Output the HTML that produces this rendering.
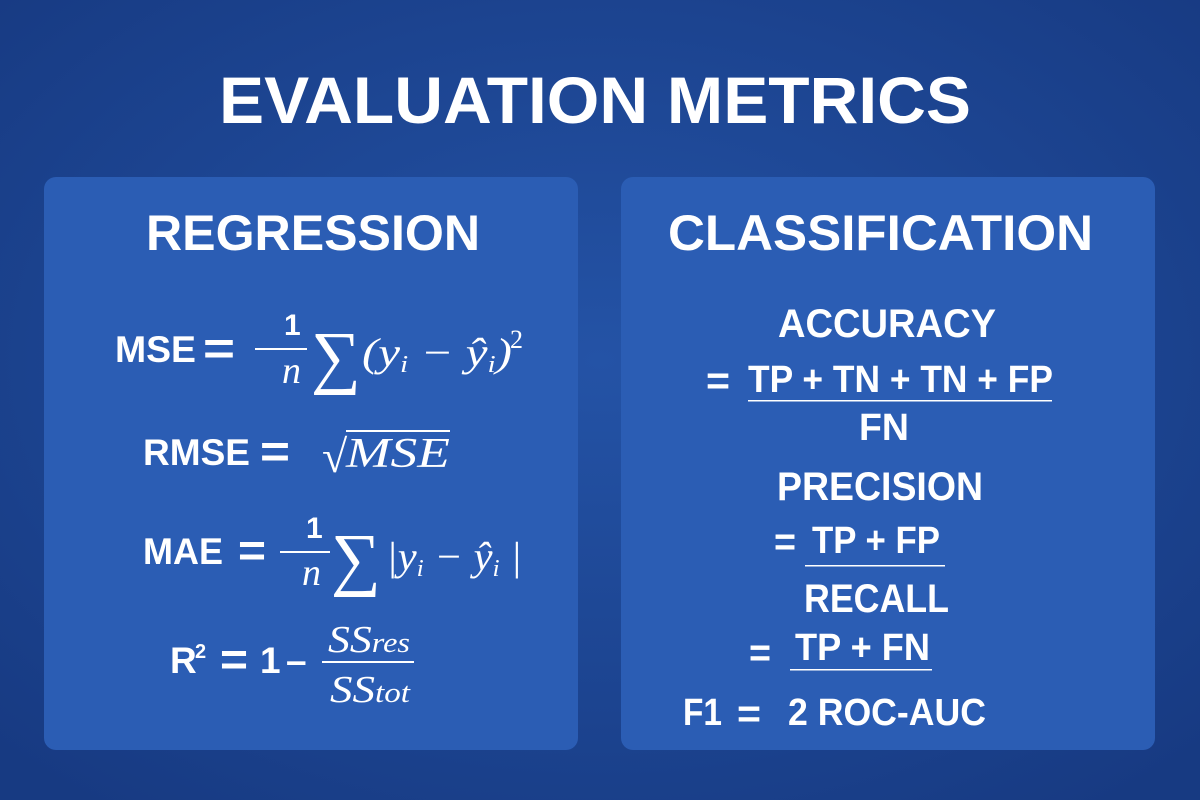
<!DOCTYPE html>
<html><head><meta charset="utf-8"><style>
html,body{margin:0;padding:0;width:1200px;height:800px;overflow:hidden;background:#1a3f8a}
svg{display:block}
.b{font-family:"Liberation Sans",sans-serif;font-weight:bold;fill:#fff}
.m{font-family:"Liberation Serif",serif;font-style:italic;fill:#fff}
.r{font-family:"Liberation Serif",serif;fill:#fff}
</style></head><body>
<svg width="1200" height="800" viewBox="0 0 1200 800">
<defs>
<radialGradient id="bg" cx="50%" cy="45%" r="70%"><stop offset="0" stop-color="#2453a6"/><stop offset="1" stop-color="#173a82"/></radialGradient>
</defs>
<rect width="1200" height="800" fill="url(#bg)"/>
<text class="b" x="219" y="123" font-size="66" textLength="752" lengthAdjust="spacingAndGlyphs">EVALUATION METRICS</text>

<g>
<rect x="44" y="177" width="534" height="573" rx="12" fill="#2b5db4"/>
<text class="b" x="146" y="250" font-size="50" textLength="334" lengthAdjust="spacingAndGlyphs">REGRESSION</text>

<g>
<text class="b" x="115" y="362" font-size="37" textLength="81" lengthAdjust="spacingAndGlyphs">MSE</text>
<text class="b" x="203" y="364" font-size="46" textLength="32" lengthAdjust="spacingAndGlyphs">=</text>
<text class="b" x="284" y="335" font-size="30">1</text>
<rect x="255" y="348" width="52" height="2" fill="#fff"/>
<text class="m" x="282" y="383" font-size="38">n</text>
<text class="r" x="311" y="380" font-size="70">∑</text>
<text class="m" x="362" y="366" font-size="40" textLength="150" lengthAdjust="spacingAndGlyphs">(y<tspan font-size="24" dy="6">i</tspan><tspan dy="-6"> − ŷ</tspan><tspan font-size="24" dy="6">i</tspan><tspan dy="-6">)</tspan></text>
<text class="r" x="510" y="348" font-size="26">2</text>
</g>

<g>
<text class="b" x="143" y="465" font-size="37" textLength="107" lengthAdjust="spacingAndGlyphs">RMSE</text>
<text class="b" x="260" y="467" font-size="46" textLength="30" lengthAdjust="spacingAndGlyphs">=</text>
<text class="r" x="322" y="472" font-size="46">√</text>
<rect x="346" y="430" width="104" height="2" fill="#fff"/>
<text class="m" x="346" y="467" font-size="42" textLength="104" lengthAdjust="spacingAndGlyphs">MSE</text>
</g>

<g>
<text class="b" x="143" y="564" font-size="37" textLength="80" lengthAdjust="spacingAndGlyphs">MAE</text>
<text class="b" x="238" y="566" font-size="46" textLength="28" lengthAdjust="spacingAndGlyphs">=</text>
<text class="b" x="306" y="538" font-size="30">1</text>
<rect x="280" y="551" width="50" height="2" fill="#fff"/>
<text class="m" x="302" y="585" font-size="38">n</text>
<text class="r" x="331" y="582" font-size="70">∑</text>
<text class="m" x="386" y="570" font-size="40" textLength="136" lengthAdjust="spacingAndGlyphs">|y<tspan font-size="24" dy="6">i</tspan><tspan dy="-6"> − ŷ</tspan><tspan font-size="24" dy="6">i</tspan><tspan dy="-6"> |</tspan></text>
</g>

<g>
<text class="b" x="170" y="673" font-size="37">R</text>
<text class="b" x="195" y="658" font-size="20">2</text>
<text class="b" x="220" y="675" font-size="46" textLength="28" lengthAdjust="spacingAndGlyphs">=</text>
<text class="b" x="260" y="673" font-size="37">1</text>
<text class="b" x="286" y="673" font-size="37">–</text>
<text class="m" x="328" y="652" font-size="38" textLength="82" lengthAdjust="spacingAndGlyphs">SS<tspan font-size="28">res</tspan></text>
<rect x="322" y="661" width="92" height="2" fill="#fff"/>
<text class="m" x="330" y="702" font-size="38" textLength="80" lengthAdjust="spacingAndGlyphs">SS<tspan font-size="28">tot</tspan></text>
</g>
</g>

<g>
<rect x="621" y="177" width="534" height="573" rx="12" fill="#2b5db4"/>
<text class="b" x="668" y="250" font-size="50" textLength="425" lengthAdjust="spacingAndGlyphs">CLASSIFICATION</text>

<g>
<text class="b" x="778" y="337" font-size="40" textLength="218" lengthAdjust="spacingAndGlyphs">ACCURACY</text>
<text class="b" x="706" y="394" font-size="40" textLength="24" lengthAdjust="spacingAndGlyphs">=</text>
<text class="b" x="748" y="392" font-size="38" textLength="305" lengthAdjust="spacingAndGlyphs">TP + TN + TN + FP</text>
<rect x="748" y="400" width="304" height="1.5" fill="#fff"/>
<text class="b" x="859" y="440" font-size="38" textLength="50" lengthAdjust="spacingAndGlyphs">FN</text>
</g>

<g>
<text class="b" x="777" y="500" font-size="40" textLength="206" lengthAdjust="spacingAndGlyphs">PRECISION</text>
<text class="b" x="774" y="555" font-size="40" textLength="22" lengthAdjust="spacingAndGlyphs">=</text>
<text class="b" x="812" y="553" font-size="38" textLength="128" lengthAdjust="spacingAndGlyphs">TP + FP</text>
<rect x="805" y="565" width="140" height="1.5" fill="#fff"/>
</g>

<g>
<text class="b" x="804" y="612" font-size="40" textLength="145" lengthAdjust="spacingAndGlyphs">RECALL</text>
<text class="b" x="749" y="666" font-size="40" textLength="22" lengthAdjust="spacingAndGlyphs">=</text>
<text class="b" x="795" y="660" font-size="38" textLength="135" lengthAdjust="spacingAndGlyphs">TP + FN</text>
<rect x="790" y="669" width="142" height="1.5" fill="#fff"/>
</g>

<g>
<text class="b" x="683" y="725" font-size="38" textLength="39" lengthAdjust="spacingAndGlyphs">F1</text>
<text class="b" x="737" y="727" font-size="40" textLength="24" lengthAdjust="spacingAndGlyphs">=</text>
<text class="b" x="788" y="725" font-size="38" textLength="198" lengthAdjust="spacingAndGlyphs">2 ROC-AUC</text>
</g>
</g>
</svg>
</body></html>
